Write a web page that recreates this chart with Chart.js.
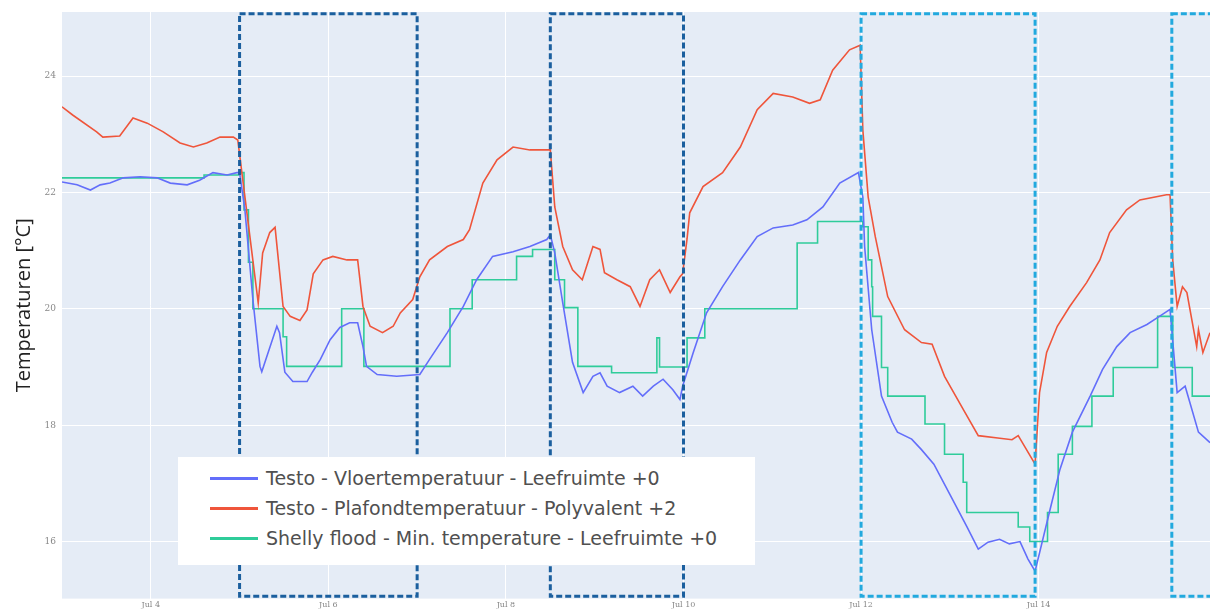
<!DOCTYPE html>
<html>
<head>
<meta charset="utf-8">
<script src="https://cdn.jsdelivr.net/npm/chart.js@4.4.1/dist/chart.umd.min.js"></script>
<style>
    body { margin: 0; background: #fff; }
    #wrap { position: relative; width: 1210px; height: 610px; overflow: hidden; }
    #legend {
        position: absolute; left: 178px; top: 457px; width: 577px; height: 108px;
        background: #fff; font-family: "DejaVu Sans", sans-serif; font-size: 19px; color: #505050;
        box-sizing: border-box; padding-top: 6px;
    }
    .row { display: flex; align-items: center; height: 30px; }
    .swatch { width: 48px; height: 3px; margin-left: 32px; margin-right: 8px; }
</style>
</head>
<body>
<div id="wrap">
    <canvas id="chart" width="1210" height="610"></canvas>
    <div id="legend"></div>
</div>
<script>
// x values are days of July (3.0 = Jul 3 00:00)
const floorTime = [3.00, 3.17, 3.32, 3.43, 3.54, 3.69, 3.88, 4.07, 4.22, 4.41, 4.55, 4.70, 4.86, 4.97,
    5.00, 5.06, 5.15, 5.23, 5.25, 5.42, 5.45, 5.51, 5.60, 5.76, 5.82, 5.91, 6.02, 6.13, 6.24, 6.33,
    6.39, 6.43, 6.55, 6.77, 7.03, 7.14, 7.34, 7.52, 7.67, 7.85, 8.08, 8.27, 8.46, 8.50, 8.55, 8.64,
    8.75, 8.87, 8.98, 9.06, 9.14, 9.28, 9.43, 9.54, 9.66, 9.77, 9.88, 9.96, 9.99, 10.11, 10.26,
    10.44, 10.64, 10.83, 11.01, 11.23, 11.39, 11.57, 11.76, 11.97, 12.02, 12.04, 12.12, 12.23,
    12.35, 12.41, 12.57, 12.68, 12.82, 13.00, 13.19, 13.32, 13.43, 13.56, 13.67, 13.79, 13.88,
    13.96, 14.13, 14.24, 14.38, 14.58, 14.72, 14.88, 15.03, 15.22, 15.36, 15.48, 15.56, 15.65,
    15.80, 15.93];
const floorTemp = [22.18, 22.13, 22.04, 22.13, 22.16, 22.25, 22.27, 22.25, 22.16, 22.13, 22.21, 22.34, 22.30, 22.34,
    22.34, 21.70, 20.16, 19.01, 18.92, 19.70, 19.59, 18.91, 18.75, 18.75, 18.91, 19.13, 19.47, 19.68, 19.76, 19.76,
    19.35, 19.01, 18.87, 18.84, 18.87, 19.13, 19.59, 20.04, 20.50, 20.90, 20.98, 21.07, 21.19, 21.27, 20.96, 20.10,
    19.08, 18.56, 18.84, 18.90, 18.67, 18.56, 18.67, 18.50, 18.67, 18.79, 18.61, 18.44, 18.67, 19.25, 19.93,
    20.38, 20.84, 21.24, 21.39, 21.44, 21.53, 21.75, 22.16, 22.34, 21.92, 21.07, 19.64, 18.50,
    18.05, 17.88, 17.76, 17.58, 17.33, 16.81, 16.26, 15.87, 15.99, 16.04, 15.96, 16.00, 15.70,
    15.49, 16.56, 17.24, 17.88, 18.50, 18.96, 19.35, 19.59, 19.73, 19.87, 19.99, 18.56, 18.67,
    17.88, 17.70];

const ceilingTime = [3.00, 3.12, 3.39, 3.46, 3.65, 3.80, 3.96, 4.14, 4.33, 4.48, 4.63, 4.78, 4.93, 4.98,
    5.21, 5.26, 5.34, 5.40, 5.49, 5.57, 5.68, 5.76, 5.83, 5.94, 6.05, 6.21, 6.33, 6.39, 6.47, 6.61,
    6.73, 6.81, 6.95, 7.03, 7.14, 7.34, 7.52, 7.59, 7.74, 7.90, 8.08, 8.27, 8.50, 8.55, 8.64, 8.75,
    8.86, 8.98, 9.06, 9.11, 9.25, 9.40, 9.51, 9.62, 9.73, 9.85, 9.96, 9.99, 10.04, 10.07, 10.22,
    10.44, 10.64, 10.83, 11.01, 11.23, 11.42, 11.54, 11.68, 11.87, 11.99, 12.02, 12.08, 12.16,
    12.30, 12.49, 12.68, 12.80, 12.94, 13.17, 13.32, 13.54, 13.70, 13.77, 13.84, 13.96, 14.01,
    14.09, 14.21, 14.35, 14.54, 14.69, 14.80, 14.99, 15.14, 15.44, 15.48, 15.51, 15.56, 15.62,
    15.67, 15.78, 15.80, 15.85, 15.93];
const ceilingTemp = [23.47, 23.33, 23.04, 22.95, 22.97, 23.28, 23.19, 23.04, 22.85, 22.78, 22.85, 22.95, 22.95, 22.90,
    20.10, 20.96, 21.31, 21.40, 20.04, 19.87, 19.80, 19.98, 20.60, 20.84, 20.90, 20.84, 20.84, 20.04, 19.70, 19.59,
    19.70, 19.93, 20.16, 20.55, 20.84, 21.07, 21.19, 21.36, 22.16, 22.56, 22.78, 22.73, 22.73, 21.75, 21.07, 20.67,
    20.50, 21.07, 21.02, 20.62, 20.50, 20.38, 20.04, 20.50, 20.67, 20.28, 20.55, 20.60, 21.20, 21.65, 22.10,
    22.34, 22.78, 23.42, 23.70, 23.64, 23.53, 23.59, 24.10, 24.45, 24.53, 23.07, 21.92, 21.24,
    20.21, 19.64, 19.42, 19.39, 18.84, 18.22, 17.82, 17.78, 17.75, 17.82, 17.64, 17.33, 18.56,
    19.25, 19.70, 20.04, 20.45, 20.84, 21.31, 21.70, 21.87, 21.96, 21.96, 20.84, 20.04, 20.38,
    20.28, 19.35, 19.64, 19.25, 19.59];

// stepped series: each value holds until the next time
const shellyTime = [3.00, 4.60, 5.00, 5.05, 5.10, 5.15, 5.49, 5.53, 6.15, 6.40, 7.37, 7.62, 8.12, 8.30,
    8.55, 8.66, 8.81, 9.19, 9.70, 9.73, 10.04, 10.24, 11.28, 11.51, 12.02, 12.08, 12.12, 12.13, 12.23,
    12.30, 12.72, 12.94, 13.15, 13.19, 13.77, 13.90, 14.10, 14.22, 14.38, 14.60, 14.84, 15.34, 15.51,
    15.73, 15.93];
const shellyTemp = [22.25, 22.30, 22.34, 21.70, 20.80, 20.00, 19.52, 19.01, 20.00, 19.01, 20.00, 20.50, 20.90, 21.02,
    20.50, 20.02, 19.01, 18.90, 19.50, 19.00, 19.50, 20.00, 21.13, 21.50, 21.41, 20.84, 20.38, 19.87, 18.99,
    18.50, 18.02, 17.50, 17.02, 16.50, 16.25, 16.00, 16.50, 17.50, 17.98, 18.50, 18.99, 19.87, 18.99,
    18.50, 18.50];

const seriesNames = ['Testo - Vloertemperatuur - Leefruimte +0',
    'Testo - Plafondtemperatuur - Polyvalent +2',
    'Shelly flood - Min. temperature - Leefruimte +0'];
const seriesColors = ['#636efa', '#ef553b', '#2fcc9a'];

const xTickValues = [4, 6, 8, 10, 12, 14];
const xTickLabels = ['Jul 4', 'Jul 6', 'Jul 8', 'Jul 10', 'Jul 12', 'Jul 14'];
const yTickValues = [16, 18, 20, 22, 24];

// dashed highlight boxes (days), dark blue then light blue
const boxStart = [5.0, 8.5, 12.0, 15.5];
const boxEnd = [7.0, 10.0, 13.96, 16.3];
const boxColors = ['#1b5f9e', '#1b5f9e', '#22a9de', '#22a9de'];
const boxTop = 25.07;
const boxBottom = 15.06;

function toPoints(xs, ys) {
    return xs.map((x, i) => ({ x: x, y: ys[i] }));
}

const plotBackground = {
    id: 'plotBackground',
    beforeDraw(chart) {
        const a = chart.chartArea;
        const ctx = chart.ctx;
        ctx.save();
        ctx.fillStyle = '#e5ecf6';
        ctx.fillRect(a.left, a.top, a.right - a.left, a.bottom - a.top);
        ctx.restore();
    }
};

const dashedBoxes = {
    id: 'dashedBoxes',
    afterDatasetsDraw(chart) {
        const ctx = chart.ctx;
        const xs = chart.scales.x;
        const ys = chart.scales.y;
        ctx.save();
        ctx.lineWidth = 3;
        ctx.setLineDash([6, 3]);
        boxStart.forEach((s, i) => {
            const x1 = xs.getPixelForValue(s);
            const x2 = xs.getPixelForValue(boxEnd[i]);
            const y1 = ys.getPixelForValue(boxTop);
            const y2 = ys.getPixelForValue(boxBottom);
            ctx.strokeStyle = boxColors[i];
            ctx.strokeRect(x1, y1, x2 - x1, y2 - y1);
        });
        ctx.restore();
    }
};

const ctx = document.getElementById('chart').getContext('2d');
new Chart(ctx, {
    type: 'line',
    data: {
        datasets: [
            { label: seriesNames[0], data: toPoints(floorTime, floorTemp), borderColor: seriesColors[0] },
            { label: seriesNames[1], data: toPoints(ceilingTime, ceilingTemp), borderColor: seriesColors[1] },
            { label: seriesNames[2], data: toPoints(shellyTime, shellyTemp), borderColor: seriesColors[2], stepped: true }
        ]
    },
    options: {
        responsive: false,
        animation: false,
        devicePixelRatio: 1,
        layout: { padding: { top: 12, right: 0, left: 0, bottom: 0 } },
        elements: {
            point: { radius: 0 },
            line: { borderWidth: 1.6, tension: 0 }
        },
        plugins: {
            legend: { display: false },
            tooltip: { enabled: false }
        },
        scales: {
            x: {
                type: 'linear',
                min: 3.0,
                max: 15.93,
                afterBuildTicks: scale => { scale.ticks = xTickValues.map(v => ({ value: v })); },
                afterFit: scale => { scale.height = 10; },
                ticks: {
                    padding: 2,
                    maxRotation: 0,
                    color: '#888',
                    font: { size: 8, family: 'DejaVu Serif' },
                    callback: v => xTickLabels[xTickValues.indexOf(v)]
                },
                grid: { color: '#ffffff', lineWidth: 1, drawTicks: false },
                border: { display: false }
            },
            y: {
                min: 15.02,
                max: 25.1,
                afterBuildTicks: scale => { scale.ticks = yTickValues.map(v => ({ value: v })); },
                afterFit: scale => { scale.width = 62; },
                ticks: {
                    padding: 6,
                    color: '#888',
                    font: { size: 9, family: 'DejaVu Serif' }
                },
                grid: { color: '#ffffff', lineWidth: 1, drawTicks: false },
                border: { display: false },
                title: {
                    display: true,
                    text: 'Temperaturen [°C]',
                    color: '#222',
                    font: { size: 20, family: 'Open Sans' },
                    padding: { top: 12, bottom: 0 }
                }
            }
        }
    },
    plugins: [plotBackground, dashedBoxes]
});

// legend box inside the plot, built from the series names
const legend = document.getElementById('legend');
seriesNames.forEach((name, i) => {
    const row = document.createElement('div');
    row.className = 'row';
    const sw = document.createElement('div');
    sw.className = 'swatch';
    sw.style.background = seriesColors[i];
    const label = document.createElement('span');
    label.textContent = name;
    row.appendChild(sw);
    row.appendChild(label);
    legend.appendChild(row);
});
</script>
</body>
</html>
